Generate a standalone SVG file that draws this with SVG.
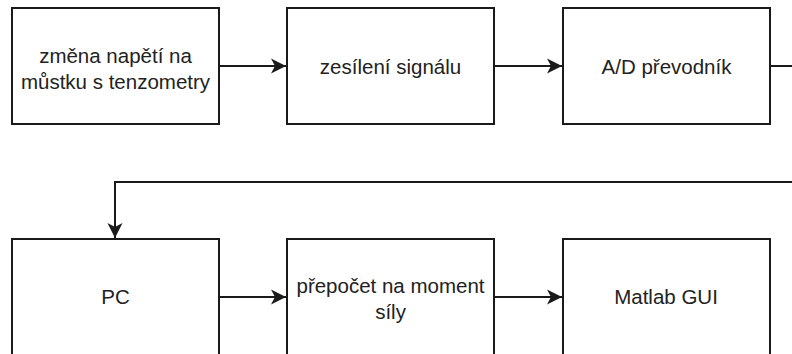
<svg xmlns="http://www.w3.org/2000/svg" width="792" height="354" viewBox="0 0 792 354">
  <style>
    .box { fill: #ffffff; stroke: #1a1a1a; stroke-width: 2; }
    .lbl { font-family: "Liberation Sans", Arial, sans-serif; font-size: 20.5px; fill: #222222; text-anchor: middle; }
    .edge { fill: none; stroke: #1a1a1a; stroke-width: 2; }
  </style>
  <defs>
    <marker id="arrow" markerUnits="userSpaceOnUse" markerWidth="18" markerHeight="18" viewBox="-16 -9 18 18" refX="0" refY="0" orient="auto">
      <path d="M0,0 L-15,-7.5 L-11,0 L-15,7.5 Z" fill="#1a1a1a"/>
    </marker>
  </defs>
  <rect width="792" height="354" fill="#ffffff"/>

  <g id="connectors">
    <path class="edge" d="M219,66 H286" marker-end="url(#arrow)"/>
    <path class="edge" d="M494,66 H562" marker-end="url(#arrow)"/>
    <path class="edge" d="M770,66 H800 V182 H115 V238" marker-end="url(#arrow)"/>
    <path class="edge" d="M219,297 H286" marker-end="url(#arrow)"/>
    <path class="edge" d="M494,297 H562" marker-end="url(#arrow)"/>
  </g>

  <g id="node-mustek">
    <rect class="box" x="12" y="8" width="207" height="116"/>
    <text class="lbl" x="115.5" y="63">změna napětí na</text>
    <text class="lbl" x="115.5" y="89">můstku s tenzometry</text>
  </g>
  <g id="node-zesileni">
    <rect class="box" x="287" y="8" width="207" height="116"/>
    <text class="lbl" x="390.5" y="73.5">zesílení signálu</text>
  </g>
  <g id="node-ad">
    <rect class="box" x="563" y="8" width="207" height="116"/>
    <text class="lbl" x="666.5" y="73.5">A/D převodník</text>
  </g>
  <g id="node-pc">
    <rect class="box" x="12" y="239" width="207" height="116"/>
    <text class="lbl" x="115.5" y="304.3">PC</text>
  </g>
  <g id="node-prepocet">
    <rect class="box" x="287" y="239" width="207" height="116"/>
    <text class="lbl" x="390.5" y="293">přepočet na moment</text>
    <text class="lbl" x="390.5" y="319">síly</text>
  </g>
  <g id="node-matlab">
    <rect class="box" x="563" y="239" width="207" height="116"/>
    <text class="lbl" x="666" y="304.3">Matlab GUI</text>
  </g>
</svg>
